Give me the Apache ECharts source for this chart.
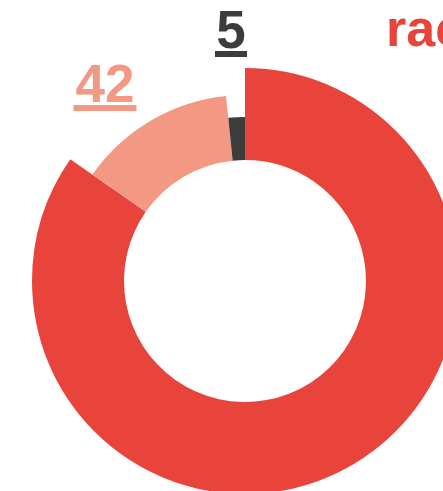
<!DOCTYPE html>
<html>
<head>
<meta charset="utf-8">
<script src="https://cdn.jsdelivr.net/npm/echarts@6/dist/echarts.min.js"></script>
<style>
    html, body {margin: 0; padding: 0; background: #fff;}
    #main {width: 443px; height: 491px;}
</style>
</head>
<body>
<div id="main"></div>
<script>
// data
var names = ['racial', 'other', 'unknown'];
var values = [260, 42, 5];

// styles
var colors = ['#e8443c', '#f29883', '#3c3c3a'];
var outerRadius = [213, 186, 164];
var labelPos = [[386, 32], [105, 69], [231, 15]];
var underlineW = [0, 63, 32];
var font = '"Liberation Sans", Arial, sans-serif';

var myChart = echarts.init(document.getElementById('main'));

function buildSeries(k) {
    var label;
    if (k === 0) {
        // red one shows its name, runs off the edge
        label = {
            formatter: '{b}',
            fontSize: 52,
            fontWeight: 'bold',
            fontFamily: font,
            color: colors[k],
            overflow: 'none'
        };
    } else {
        label = {
            formatter: '{n|{c}}\n{u|}',
            rich: {
                n: {
                    fontSize: 53,
                    fontWeight: 'bold',
                    fontFamily: font,
                    color: colors[k],
                    lineHeight: 36,
                    align: 'center'
                },
                u: {
                    width: underlineW[k],
                    height: 6,
                    backgroundColor: colors[k],
                    align: 'center'
                }
            }
        };
    }
    return {
        type: 'pie',
        center: [245, 281],
        radius: [121, outerRadius[k]],
        startAngle: 90,
        clockwise: true,
        silent: true,
        animation: false,
        avoidLabelOverlap: false,
        labelLine: {show: false},
        label: label,
        labelLayout: {
            x: labelPos[k][0],
            y: labelPos[k][1],
            align: k === 0 ? 'left' : 'center',
            verticalAlign: k === 0 ? 'middle' : 'top',
            hideOverlap: false
        },
        data: values.map(function (v, i) {
            return {
                name: names[i],
                value: v,
                itemStyle: {color: i === k ? colors[i] : 'rgba(0,0,0,0)'},
                label: {show: i === k}
            };
        })
    };
}

option = {
    backgroundColor: '#fff',
    series: [buildSeries(0), buildSeries(1), buildSeries(2)]
};
myChart.setOption(option);
</script>
</body>
</html>
